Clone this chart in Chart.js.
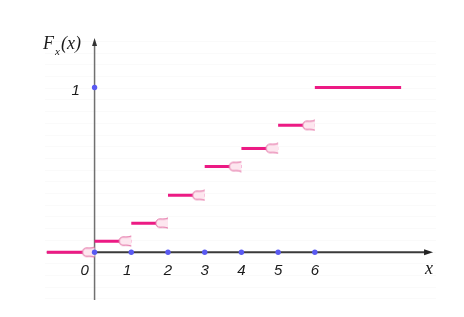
<!DOCTYPE html>
<html>
<head>
<meta charset="utf-8">
<script src="https://cdn.jsdelivr.net/npm/chart.js@4.4.0/dist/chart.umd.min.js"></script>
<style>
  html, body { margin: 0; padding: 0; background: #fff; }
  canvas { display: block; }
</style>
</head>
<body>
<canvas id="cdf" width="464" height="317"></canvas>
<script>
// valores
const stepStart = [-1.3, 0, 1, 2, 3, 4, 5, 6];
const stepEnd = [0, 1, 2, 3, 4, 5, 6, 8.35];
const stepF = [0, 0.067, 0.176, 0.345, 0.52, 0.63, 0.77, 1];
const xTicks = [0, 1, 2, 3, 4, 5, 6];
const yTicks = [1];

const pink = '#ec1a84';

// punto abierto (forma de copa) dibujado a mano
function makeCup() {
    const c = document.createElement('canvas');
    c.width = 30;
    c.height = 12;
    const g = c.getContext('2d');
    g.beginPath();
    g.moveTo(15, 1);
    g.bezierCurveTo(12, 2, 10, 2, 7, 1.8);
    g.arc(7, 6, 4.2, -Math.PI / 2, Math.PI / 2, true);
    g.bezierCurveTo(10, 10, 12, 10, 15, 11);
    g.fillStyle = '#fde6ef';
    g.fill();
    g.strokeStyle = '#e0609a';
    g.lineWidth = 1;
    g.stroke();
    return c;
}
const cup = makeCup();

const datasets = [];
// puntos azules sobre los ejes
datasets.push({
    data: xTicks.map(v => ({ x: v, y: 0 })).concat(yTicks.map(v => ({ x: 0, y: v }))),
    showLine: false,
    pointRadius: 2.7,
    pointBackgroundColor: '#5a5af2',
    pointBorderWidth: 0,
    order: 0
});
// extremos abiertos
datasets.push({
    data: stepEnd.slice(0, -1).map((v, i) => ({ x: v, y: stepF[i] })),
    showLine: false,
    pointStyle: cup,
    order: 1
});
// escalones
for (let i = 0; i < stepStart.length; i++) {
    datasets.push({
        data: [{ x: stepStart[i], y: stepF[i] }, { x: stepEnd[i], y: stepF[i] }],
        borderColor: pink,
        borderWidth: 3,
        pointRadius: 0,
        order: 2
    });
}

// ejes con flechas y etiquetas
const axesPlugin = {
    id: 'axesPlugin',
    beforeDatasetsDraw(chart) {
        const ctx = chart.ctx;
        const xs = chart.scales.x, ys = chart.scales.y;
        const x0 = xs.getPixelForValue(0), y0 = ys.getPixelForValue(0);
        ctx.save();
        // rejilla muy tenue
        ctx.strokeStyle = '#fafafa';
        ctx.lineWidth = 1;
        for (let v = -0.28; v < 1.3; v += 0.071) {
            const y = Math.round(ys.getPixelForValue(v)) + 0.5;
            ctx.beginPath();
            ctx.moveTo(chart.chartArea.left, y);
            ctx.lineTo(chart.chartArea.right, y);
            ctx.stroke();
        }
        // eje y
        ctx.strokeStyle = '#707070';
        ctx.lineWidth = 1.5;
        ctx.beginPath();
        ctx.moveTo(x0, ys.getPixelForValue(-0.29));
        ctx.lineTo(x0, ys.getPixelForValue(1.27));
        ctx.stroke();
        const yt = ys.getPixelForValue(1.3);
        ctx.fillStyle = '#333';
        ctx.beginPath();
        ctx.moveTo(x0, yt);
        ctx.lineTo(x0 - 2.5, yt + 8);
        ctx.lineTo(x0 + 2.5, yt + 8);
        ctx.closePath();
        ctx.fill();
        // eje x
        ctx.strokeStyle = '#3a3a3a';
        ctx.lineWidth = 2;
        ctx.beginPath();
        ctx.moveTo(xs.getPixelForValue(-1.3), y0);
        ctx.lineTo(xs.getPixelForValue(9.0), y0);
        ctx.stroke();
        const xt = xs.getPixelForValue(9.22);
        ctx.fillStyle = '#222';
        ctx.beginPath();
        ctx.moveTo(xt, y0);
        ctx.lineTo(xt - 9, y0 - 3);
        ctx.lineTo(xt - 9, y0 + 3);
        ctx.closePath();
        ctx.fill();
        ctx.restore();
    },
    afterDraw(chart) {
        const ctx = chart.ctx;
        const xs = chart.scales.x, ys = chart.scales.y;
        const x0 = xs.getPixelForValue(0), y0 = ys.getPixelForValue(0);
        ctx.save();
        ctx.fillStyle = '#1a1a1a';
        ctx.textAlign = 'center';
        ctx.textBaseline = 'middle';
        ctx.font = 'italic 15px "Liberation Sans", Arial, sans-serif';
        xTicks.forEach(v => {
            const dx = v === 0 ? -10 : (v === 1 ? -4 : 0);
            ctx.fillText(String(v), xs.getPixelForValue(v) + dx, y0 + 19);
        });
        yTicks.forEach(v => {
            ctx.fillText(String(v), x0 - 19, ys.getPixelForValue(v) + 3);
        });
        // títulos de los ejes
        ctx.textAlign = 'left';
        ctx.textBaseline = 'alphabetic';
        ctx.font = 'italic 18px "Liberation Serif", "Times New Roman", serif';
        ctx.fillText('F', 43, 49);
        ctx.font = 'italic 11px "Liberation Serif", "Times New Roman", serif';
        ctx.fillText('x', 55, 55);
        ctx.font = 'italic 18px "Liberation Serif", "Times New Roman", serif';
        ctx.fillText('(x)', 61, 49);
        ctx.fillText('x', 425, 274);
        ctx.restore();
    }
};

new Chart(document.getElementById('cdf'), {
    type: 'line',
    data: { datasets: datasets },
    options: {
        responsive: false,
        animation: false,
        layout: { padding: { left: 45, right: 28, top: 38, bottom: 17 } },
        plugins: { legend: { display: false }, tooltip: { enabled: false } },
        scales: {
            x: { type: 'linear', display: false, min: -1.35, max: 9.3 },
            y: { type: 'linear', display: false, min: -0.29, max: 1.3 }
        }
    },
    plugins: [axesPlugin]
});
</script>
</body>
</html>
